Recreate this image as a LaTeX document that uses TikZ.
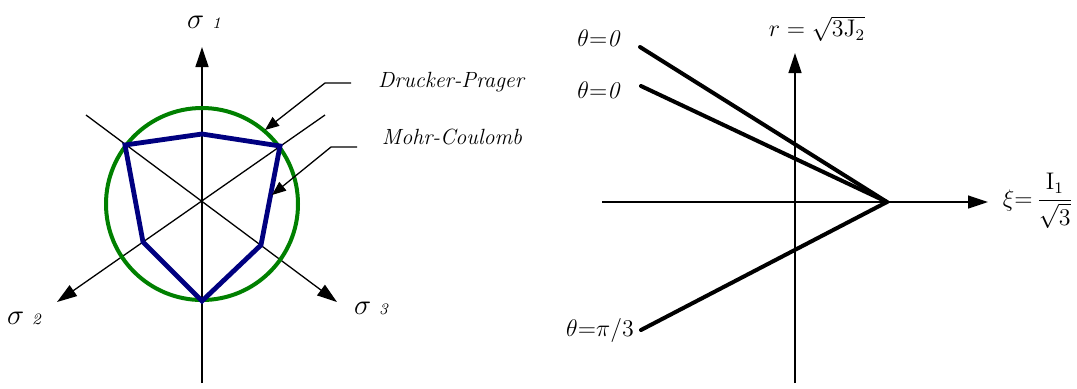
\documentclass[tikz,border=0pt]{standalone}
\usepackage{amsmath}
\usetikzlibrary{arrows.meta}
\definecolor{dpgreen}{RGB}{0,128,0}
\definecolor{mcblue}{RGB}{0,0,128}

\begin{document}
\begin{tikzpicture}[x=0.5pt,y=-0.5pt,
  axis/.style={line width=0.65pt,-{Triangle[length=10pt,width=6.5pt]}},
  plain/.style={line width=0.65pt},
  leader/.style={line width=0.65pt,-{Triangle[length=7pt,width=5.5pt]}},
  meridian/.style={line width=2pt,line cap=round},
  model/.style={inner sep=0pt,font=\fontsize{11}{13}\selectfont\itshape},
  lbl/.style={inner sep=0pt}]
\useasboundingbox (0,0) rectangle (1077,388);

% Left: deviatoric plane
\coordinate (O1) at (202,202);
\coordinate (s1b) at (202,383);
\coordinate (s1t) at (202,47);
\coordinate (s2t) at (57,302);
\coordinate (s2b) at (325,115);
\coordinate (s3t) at (337,302);
\coordinate (s3b) at (86,115);
\draw[axis] (s1b) -- (s1t);
\draw[axis] (s2b) -- (s2t);
\draw[axis] (s3b) -- (s3t);

\node[lbl] (s1) at (204,22) {\Large$\sigma$\hspace{4pt}\footnotesize\itshape 1};
\node[lbl] (s2) at (24,318) {\Large$\sigma$\hspace{4pt}\footnotesize\itshape 2};
\node[lbl] (s3) at (371,308) {\Large$\sigma$\hspace{4pt}\footnotesize\itshape 3};

% Drucker-Prager circle
\draw[dpgreen,line width=2pt] (202,204) circle[radius=48pt];

% Mohr-Coulomb hexagon
\coordinate (P1) at (202,134);
\coordinate (P2) at (280,146);
\coordinate (P3) at (261,245);
\coordinate (P4) at (202,301);
\coordinate (P5) at (143,242);
\coordinate (P6) at (125,145);
\draw[mcblue,line width=2.4pt] (P1) -- (P2) -- (P3) -- (P4) -- (P5) -- (P6) -- cycle;

% Labels with leaders
\node[model] (dp) at (451,82) {Drucker-Prager};
\node[model] (mc) at (452,137) {Mohr-Coulomb};
\coordinate (dpe) at (351,83);
\coordinate (dpk) at (325,83);
\coordinate (dpt) at (265,130);
\coordinate (mce) at (357,147);
\coordinate (mck) at (331,147);
\coordinate (mct) at (272,195);
\draw[leader] (dpe) -- (dpk) -- (dpt);
\draw[leader] (mce) -- (mck) -- (mct);

% Right: meridian plane
\coordinate (O2) at (795,202);
\coordinate (xil) at (602,202);
\coordinate (xir) at (988,202);
\coordinate (rb) at (795,383);
\coordinate (rt) at (795,53);
\draw[axis] (xil) -- (xir);
\draw[axis] (rb) -- (rt);

\node[lbl] (rlab) at (817,29) {\large$r=\sqrt{3\mathrm{J}_2}$};
\node[lbl] (xilab) at (1038,201) {\large$\xi{=}\,\dfrac{\mathrm{I}_1}{\sqrt{3}}$};

\coordinate (apex) at (887,202);
\coordinate (m1) at (640,47);
\coordinate (m2) at (641,86);
\coordinate (m3) at (641,330);
\draw[meridian] (m1) -- (apex);
\draw[meridian] (m2) -- (apex);
\draw[meridian] (m3) -- (apex);

\node[lbl] (t1) at (600,38) {\large$\theta{=}\mathit{0}$};
\node[lbl] (t2) at (600,90) {\large$\theta{=}\mathit{0}$};
\node[lbl] (t3) at (600,330) {\large$\theta{=}\pi/3$};
\end{tikzpicture}
\end{document}
